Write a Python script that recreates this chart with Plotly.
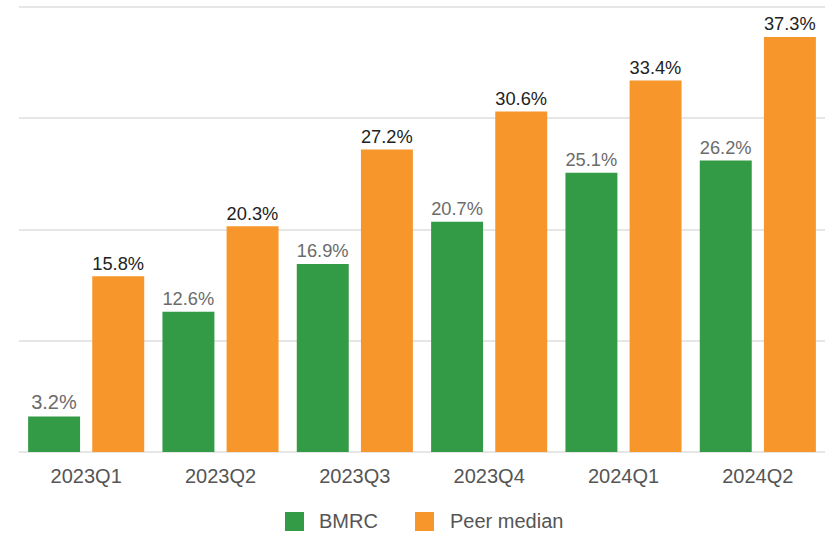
import plotly.graph_objects as go

quarters = ["2023Q1", "2023Q2", "2023Q3", "2023Q4", "2024Q1", "2024Q2"]
bmrc = [3.2, 12.6, 16.9, 20.7, 25.1, 26.2]
peer_median = [15.8, 20.3, 27.2, 30.6, 33.4, 37.3]
series_names = ["BMRC", "Peer median"]

GREEN = "#339a46"
ORANGE = "#f7962a"
FONT = "Liberation Sans, Arial, sans-serif"
SIZE = 20

fig = go.Figure()
fig.add_trace(go.Bar(
    x=quarters, y=bmrc, name=series_names[0],
    marker=dict(color=GREEN, line=dict(width=0)),
    text=[f"{v:.1f}%" for v in bmrc], textposition="outside",
    textfont=dict(color="#6b6b6b", size=SIZE, family=FONT),
    cliponaxis=False,
))
fig.add_trace(go.Bar(
    x=quarters, y=peer_median, name=series_names[1],
    marker=dict(color=ORANGE, line=dict(width=0)),
    text=[f"{v:.1f}%" for v in peer_median], textposition="outside",
    textfont=dict(color="#222222", size=SIZE, family=FONT),
    cliponaxis=False,
))

# bottom legend: square swatches with labels (paper coordinates)
legend_items = [
    (series_names[0], GREEN, 0.330, 0.3697),
    (series_names[1], ORANGE, 0.4913, 0.5323),
]
shapes, annotations = [], []
for name, color, x0, xt in legend_items:
    shapes.append(dict(
        type="rect", xref="paper", yref="paper",
        x0=x0, x1=x0 + 0.0236, y0=-0.1763, y1=-0.1339,
        fillcolor=color, line=dict(width=0),
    ))
    annotations.append(dict(
        text=name, xref="paper", yref="paper", x=xt, y=-0.1540,
        xanchor="left", yanchor="middle", showarrow=False,
        font=dict(size=SIZE, color="#555555", family=FONT),
    ))

fig.update_layout(
    width=832, height=542,
    margin=dict(l=19, r=7, t=4, b=90, autoexpand=False),
    paper_bgcolor="white", plot_bgcolor="white",
    barmode="group", bargap=0.045, bargroupgap=0.19,
    font=dict(family=FONT, color="#555555"),
    showlegend=False,
    shapes=shapes, annotations=annotations,
)
fig.update_xaxes(
    showgrid=False, showline=False, ticks="",
    tickfont=dict(size=SIZE, color="#555555", family=FONT),
    ticklabelstandoff=10,
)
fig.update_yaxes(
    range=[0, 40.27], tickvals=[0, 10, 20, 30, 40], showticklabels=False,
    showgrid=True, gridcolor="#e6e6e6", gridwidth=1.5,
    zeroline=True, zerolinecolor="#e6e6e6", zerolinewidth=1.5,
)

fig.write_html("out.html")
